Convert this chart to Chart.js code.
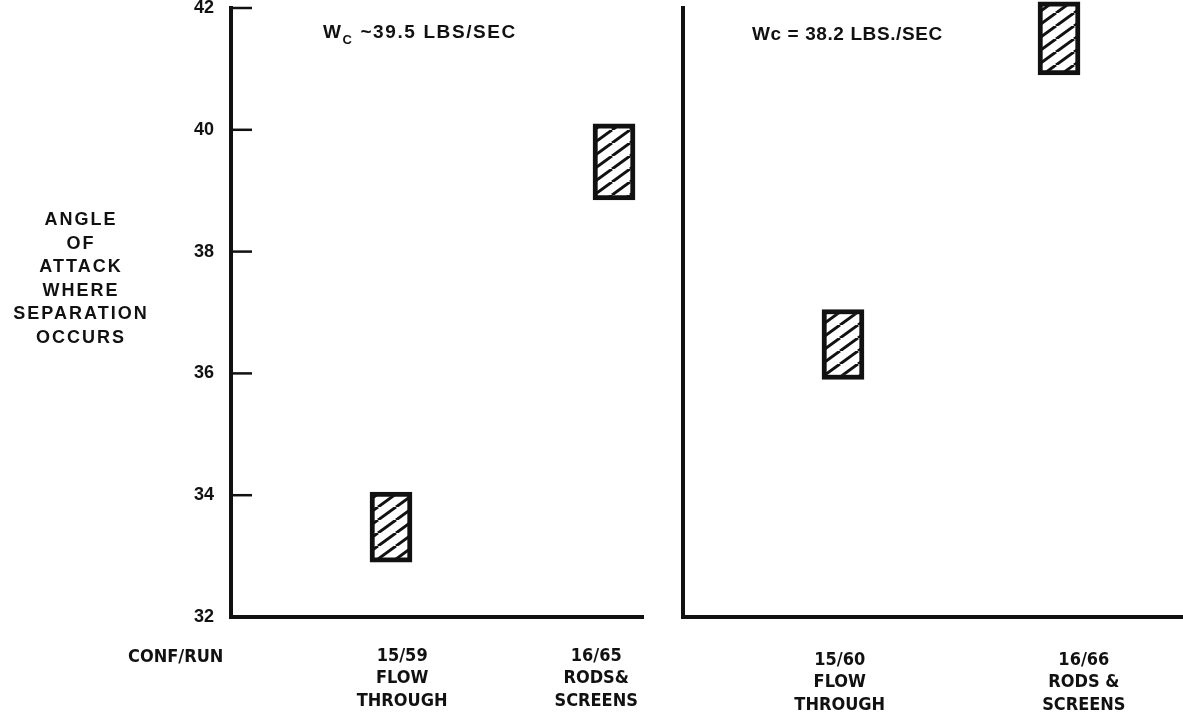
<!DOCTYPE html>
<html>
<head>
<meta charset="utf-8">
<script src="https://cdn.jsdelivr.net/npm/chart.js@4.4.1/dist/chart.umd.min.js"></script>
<style>
  html, body { margin: 0; padding: 0; background: #fff; }
  #wrap { position: relative; width: 1183px; height: 719px; overflow: hidden; }
  canvas { position: absolute; top: 0; }
  .txt { position: absolute; font-family: "Liberation Sans", Arial, sans-serif; font-weight: bold; color: #111; white-space: nowrap; }
  .note { font-size: 19px; line-height: 19px; }
  .note sub { font-size: 13px; vertical-align: -6px; line-height: 0; }
  #ytitle { left: 0; top: 208px; width: 162px; text-align: center; font-size: 18px; line-height: 23.5px; letter-spacing: 2px; }
  #conf { left: 128px; top: 647px; font-family: "DejaVu Sans Condensed", "DejaVu Sans", sans-serif; font-size: 18px; line-height: 18px; }
</style>
</head>
<body>
<div id="wrap">
  <canvas id="left" width="660" height="719" style="left:0;width:660px;height:719px"></canvas>
  <canvas id="right" width="523" height="719" style="left:660px;width:523px;height:719px"></canvas>
  <div class="txt note" style="left:323px;top:22px;letter-spacing:1.6px">W<sub>C</sub> ~39.5 LBS/SEC</div>
  <div class="txt note" style="left:752px;top:24px;letter-spacing:0.6px">Wc = 38.2 LBS./SEC</div>
  <div class="txt" id="ytitle">ANGLE<br>OF<br>ATTACK<br>WHERE<br>SEPARATION<br>OCCURS</div>
  <div class="txt" id="conf">CONF/RUN</div>
</div>
<script>
// values (degrees)
const yTicks = [32, 34, 36, 38, 40, 42];
const leftRuns = [['15/59', 'FLOW', 'THROUGH'], ['16/65', 'RODS&', 'SCREENS']];
const leftLow = [32.9, 38.85];
const leftHigh = [34.05, 40.1];
const rightRuns = [['15/60', 'FLOW', 'THROUGH'], ['16/66', 'RODS &', 'SCREENS']];
const rightLow = [35.9, 40.9];
const rightHigh = [37.05, 42.1];

const ink = '#111';
const labelFont = { family: '"DejaVu Sans Condensed", "DejaVu Sans", sans-serif', size: 18, weight: 'bold', lineHeight: 1.25 };

function hatch() {
    const c = document.createElement('canvas');
    c.width = 18; c.height = 13;
    const g = c.getContext('2d');
    g.fillStyle = '#fff';
    g.fillRect(0, 0, 18, 13);
    g.strokeStyle = ink;
    g.lineWidth = 3;
    for (const dx of [-18, 0, 18]) {
        g.beginPath();
        g.moveTo(dx, 13);
        g.lineTo(dx + 18, 0);
        g.stroke();
    }
    return g.createPattern(c, 'repeat');
}

// short inward tick marks on the y axis
const innerTicks = {
    id: 'innerTicks',
    afterDraw(chart, args, opts) {
        if (!opts.show) return;
        const y = chart.scales.y, ctx = chart.ctx, x0 = chart.chartArea.left;
        ctx.save();
        ctx.strokeStyle = ink;
        ctx.lineWidth = 2.5;
        yTicks.forEach(v => {
            if (v === y.min) return;
            const py = y.getPixelForValue(v);
            ctx.beginPath();
            ctx.moveTo(x0, py);
            ctx.lineTo(x0 + 21, py);
            ctx.stroke();
        });
        ctx.restore();
    }
};

function makePanel(id, runs, low, high, opt) {
    return new Chart(document.getElementById(id), {
        type: 'bar',
        data: {
            datasets: [{
                data: runs.map((r, i) => ({ x: i, y: [low[i], high[i]] })),
                backgroundColor: hatch(),
                borderColor: ink,
                borderWidth: 5,
                borderSkipped: false,
                barThickness: 42,
                clip: false,
            }],
        },
        options: {
            responsive: false,
            animation: false,
            layout: { padding: { top: 8, right: opt.padRight, left: 0, bottom: 0 } },
            plugins: { legend: { display: false }, tooltip: { enabled: false }, innerTicks: { show: opt.showTicks } },
            scales: {
                x: {
                    type: 'linear',
                    offset: false,
                    min: opt.xmin,
                    max: opt.xmax,
                    // the typed captions sit a little off the box centres
                    afterBuildTicks: s => { s.ticks = runs.map((r, i) => ({ value: i + opt.labelShift[i] })); },
                    afterFit: s => { s.height = 102; s.paddingLeft = 0; s.paddingRight = 0; },
                    ticks: {
                        callback: (v) => runs[Math.round(v)],
                        color: ink,
                        font: labelFont,
                        padding: opt.labelPad,
                        maxRotation: 0,
                        autoSkip: false,
                    },
                    grid: { drawOnChartArea: false, drawTicks: false },
                    border: { display: true, color: ink, width: 4 },
                },
                y: {
                    min: 32,
                    max: 42,
                    afterBuildTicks: s => { s.ticks = yTicks.map(v => ({ value: v })); },
                    afterFit: s => { s.width = opt.yWidth; s.paddingTop = 0; s.paddingBottom = 0; },
                    ticks: {
                        display: opt.showTicks,
                        color: ink,
                        padding: 17,
                        font: { family: '"Liberation Sans", Arial, sans-serif', size: 18, weight: 'bold' },
                    },
                    grid: { drawOnChartArea: false, drawTicks: false },
                    border: { display: true, color: ink, width: 4 },
                },
            },
        },
        plugins: [innerTicks],
    });
}

makePanel('left', leftRuns, leftLow, leftHigh,
    { xmin: -0.7175, xmax: 1.13, yWidth: 231, padRight: 17, showTicks: true, labelPad: 28, labelShift: [0.05, -0.08] });
makePanel('right', rightRuns, rightLow, rightHigh,
    { xmin: -0.7407, xmax: 1.574, yWidth: 23, padRight: 0, showTicks: false, labelPad: 32, labelShift: [-0.015, 0.115] });
</script>
</body>
</html>
